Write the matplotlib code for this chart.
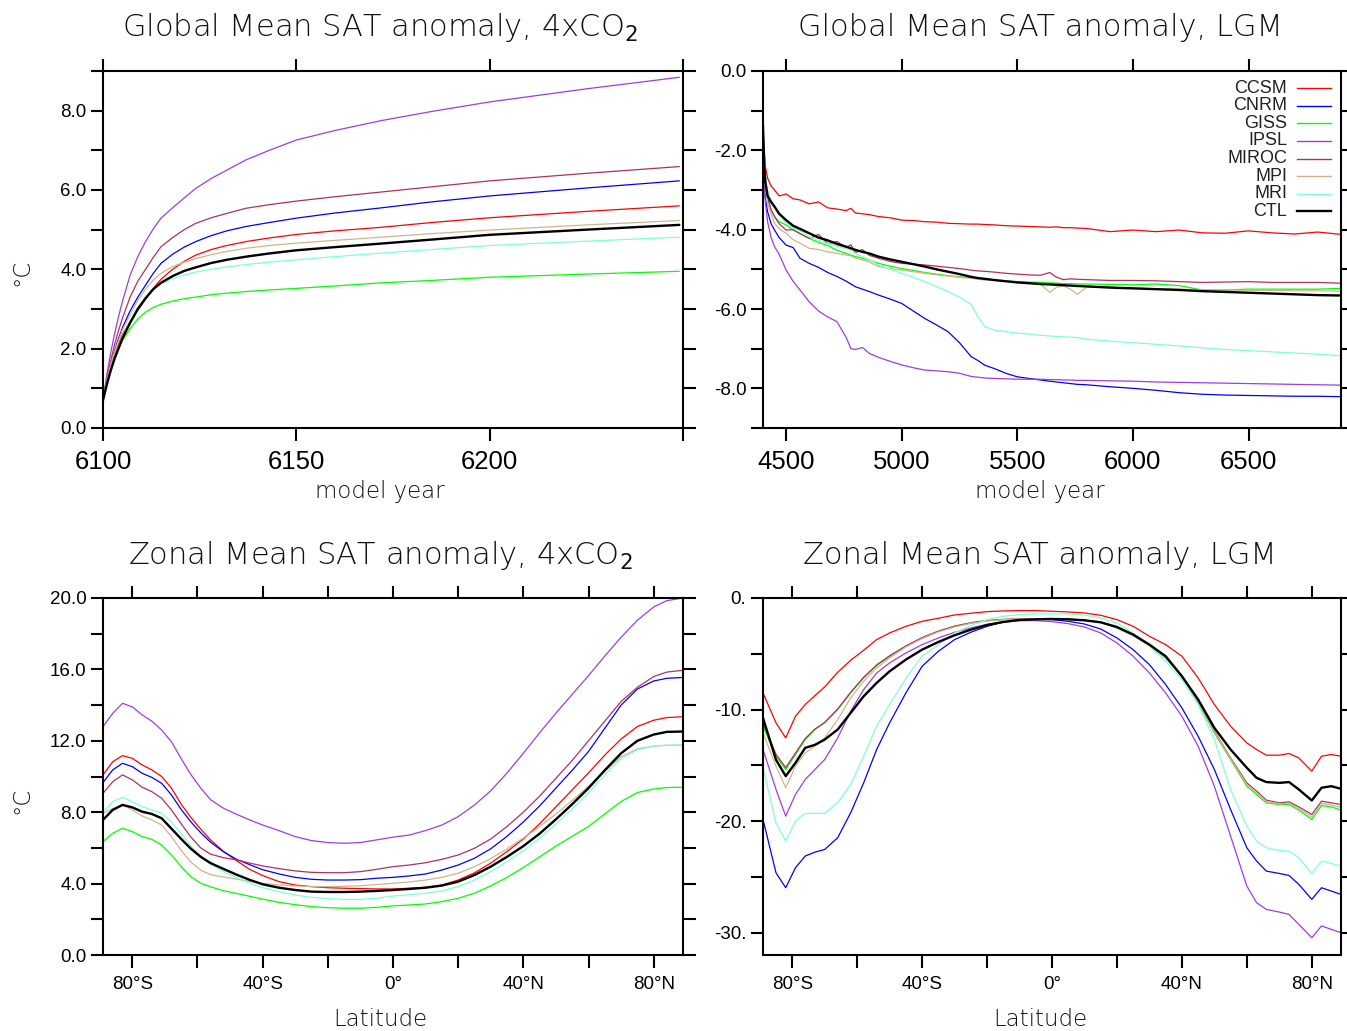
import matplotlib
matplotlib.use("Agg")
import matplotlib.pyplot as plt

plt.rcParams['font.family'] = ['Liberation Sans', 'DejaVu Sans']

# ---- data ----
models = ["CCSM", "CNRM", "GISS", "IPSL", "MIROC", "MPI", "MRI", "CTL"]
colors = ["#ff0000", "#0000ff", "#00ff00", "#a03ce0", "#b03060", "#d2b48c", "#7fffd4", "#000000"]

# global mean SAT anomaly, 4xCO2
years_4x = [6100, 6101, 6102, 6103, 6104, 6105, 6107, 6109, 6111, 6113, 6115, 6118, 6121,
            6124, 6128, 6132, 6137, 6143, 6150, 6160, 6172, 6185, 6200, 6225, 6249]
gm4x_ccsm = [0.7, 1.15, 1.5, 1.82, 2.1, 2.35, 2.68, 2.97, 3.25, 3.52, 3.75, 4.0, 4.2,
             4.36, 4.5, 4.6, 4.7, 4.79, 4.88, 4.97, 5.06, 5.18, 5.30, 5.46, 5.60]
gm4x_cnrm = [0.7, 1.2, 1.6, 1.95, 2.25, 2.52, 2.95, 3.3, 3.6, 3.9, 4.15, 4.38, 4.56,
             4.70, 4.85, 4.97, 5.08, 5.18, 5.29, 5.42, 5.55, 5.70, 5.85, 6.05, 6.23]
gm4x_giss = [0.72, 1.15, 1.5, 1.78, 2.0, 2.2, 2.5, 2.75, 2.92, 3.04, 3.12, 3.2, 3.26,
             3.3, 3.36, 3.4, 3.44, 3.48, 3.52, 3.58, 3.66, 3.72, 3.80, 3.88, 3.95]
gm4x_ipsl = [0.7, 1.35, 1.9, 2.38, 2.8, 3.18, 3.85, 4.32, 4.7, 5.02, 5.29, 5.55, 5.8,
             6.04, 6.29, 6.5, 6.76, 7.0, 7.26, 7.5, 7.75, 7.98, 8.22, 8.55, 8.84]
gm4x_miroc = [0.7, 1.25, 1.7, 2.1, 2.45, 2.76, 3.3, 3.7, 4.0, 4.3, 4.57, 4.8, 5.0,
              5.16, 5.3, 5.41, 5.54, 5.63, 5.72, 5.83, 5.95, 6.08, 6.23, 6.42, 6.59]
gm4x_mpi = [0.7, 1.2, 1.6, 1.93, 2.2, 2.47, 2.85, 3.22, 3.5, 3.73, 3.9, 4.07, 4.18,
            4.27, 4.37, 4.45, 4.53, 4.6, 4.66, 4.73, 4.81, 4.9, 4.99, 5.12, 5.23]
gm4x_mri = [0.72, 1.15, 1.5, 1.8, 2.05, 2.3, 2.7, 3.05, 3.3, 3.5, 3.64, 3.77, 3.86,
            3.93, 4.0, 4.06, 4.12, 4.18, 4.24, 4.32, 4.41, 4.5, 4.60, 4.71, 4.81]
gm4x_ctl = [0.7, 1.1, 1.45, 1.75, 2.0, 2.25, 2.65, 3.0, 3.27, 3.5, 3.66, 3.83, 3.96,
            4.05, 4.16, 4.24, 4.32, 4.4, 4.48, 4.56, 4.65, 4.75, 4.87, 5.0, 5.12]

# global mean SAT anomaly, LGM
years_lgm = [4400, 4405, 4410, 4420, 4435, 4450, 4470, 4500, 4530, 4560, 4600, 4640, 4680, 4720,
             4760, 4780, 4800, 4830, 4860, 4900, 4950, 5000, 5050, 5100, 5150, 5200, 5250, 5300,
             5330, 5360, 5400, 5450, 5500, 5550, 5600, 5640, 5670, 5700, 5730, 5760, 5800, 5900,
             6000, 6100, 6200, 6300, 6400, 6500, 6600, 6700, 6800, 6900]
gmlgm_ccsm = [-1.5, -2.0, -2.4, -2.7, -2.9, -3.0, -3.15, -3.1, -3.22, -3.25, -3.35, -3.3, -3.45, -3.48,
              -3.52, -3.46, -3.58, -3.6, -3.62, -3.67, -3.7, -3.76, -3.77, -3.8, -3.81, -3.84, -3.85, -3.86,
              -3.86, -3.87, -3.88, -3.9, -3.91, -3.92, -3.93, -3.94, -3.93, -3.95, -3.95, -3.96, -3.97, -4.05,
              -4.01, -4.05, -4.01, -4.08, -4.09, -4.03, -4.08, -4.11, -4.06, -4.12]
gmlgm_cnrm = [-1.5, -2.6, -3.2, -3.55, -3.85, -4.01, -4.2, -4.39, -4.45, -4.72, -4.85, -4.95, -5.08, -5.18,
              -5.3, -5.37, -5.44, -5.5, -5.56, -5.65, -5.75, -5.86, -6.05, -6.24, -6.4, -6.57, -6.85, -7.2,
              -7.3, -7.42, -7.5, -7.62, -7.71, -7.75, -7.79, -7.82, -7.84, -7.86, -7.88, -7.9, -7.91, -7.96,
              -8.0, -8.05, -8.11, -8.15, -8.17, -8.18, -8.19, -8.2, -8.2, -8.21]
gmlgm_giss = [-1.5, -2.2, -2.7, -3.2, -3.5, -3.67, -3.8, -3.88, -4.0, -4.1, -4.22, -4.32, -4.4, -4.52,
              -4.6, -4.64, -4.68, -4.72, -4.77, -4.85, -4.92, -4.98, -5.03, -5.08, -5.12, -5.16, -5.19, -5.21,
              -5.23, -5.24, -5.27, -5.29, -5.31, -5.32, -5.33, -5.34, -5.35, -5.36, -5.36, -5.37, -5.37, -5.38,
              -5.39, -5.37, -5.41, -5.52, -5.52, -5.5, -5.5, -5.5, -5.5, -5.48]
gmlgm_ipsl = [-1.6, -2.8, -3.3, -3.8, -4.2, -4.43, -4.62, -5.02, -5.3, -5.52, -5.82, -6.05, -6.2, -6.32,
              -6.72, -7.0, -7.02, -6.97, -7.12, -7.22, -7.32, -7.41, -7.48, -7.54, -7.56, -7.58, -7.62, -7.7,
              -7.72, -7.74, -7.75, -7.76, -7.77, -7.77, -7.77, -7.78, -7.78, -7.79, -7.79, -7.8, -7.8, -7.81,
              -7.82, -7.84, -7.85, -7.86, -7.87, -7.88, -7.89, -7.9, -7.91, -7.92]
gmlgm_miroc = [-1.5, -2.2, -2.7, -3.2, -3.5, -3.67, -3.85, -4.01, -4.0, -4.1, -4.22, -4.12, -4.35, -4.3,
               -4.45, -4.38, -4.58, -4.5, -4.65, -4.72, -4.8, -4.85, -4.87, -4.89, -4.92, -4.95, -4.98, -5.02,
               -5.04, -5.05, -5.07, -5.1, -5.12, -5.14, -5.15, -5.08, -5.2, -5.26, -5.24, -5.25, -5.26, -5.28,
               -5.28, -5.29, -5.31, -5.33, -5.32, -5.31, -5.33, -5.33, -5.33, -5.35]
gmlgm_mpi = [-1.5, -2.3, -2.9, -3.35, -3.6, -3.84, -3.98, -4.09, -4.25, -4.34, -4.47, -4.5, -4.56, -4.6,
             -4.64, -4.66, -4.72, -4.76, -4.82, -4.93, -4.98, -5.02, -5.06, -5.1, -5.14, -5.17, -5.2, -5.23,
             -5.25, -5.27, -5.28, -5.3, -5.33, -5.35, -5.37, -5.58, -5.45, -5.42, -5.5, -5.63, -5.45, -5.45,
             -5.47, -5.49, -5.5, -5.51, -5.52, -5.53, -5.53, -5.54, -5.54, -5.55]
gmlgm_mri = [-1.3, -2.1, -2.6, -3.0, -3.3, -3.42, -3.62, -3.84, -3.95, -4.02, -4.18, -4.27, -4.35, -4.42,
             -4.48, -4.52, -4.6, -4.68, -4.76, -4.89, -5.0, -5.1, -5.2, -5.31, -5.43, -5.56, -5.7, -5.88,
             -6.2, -6.45, -6.53, -6.57, -6.61, -6.63, -6.66, -6.68, -6.69, -6.7, -6.71, -6.72, -6.76, -6.81,
             -6.85, -6.89, -6.93, -6.98, -7.02, -7.05, -7.08, -7.11, -7.14, -7.18]
gmlgm_ctl = [-1.4, -2.3, -2.8, -3.15, -3.3, -3.42, -3.6, -3.76, -3.9, -3.98, -4.09, -4.2, -4.27, -4.36,
             -4.43, -4.47, -4.51, -4.56, -4.6, -4.68, -4.75, -4.81, -4.87, -4.93, -5.0, -5.06, -5.12, -5.19,
             -5.22, -5.24, -5.27, -5.3, -5.33, -5.35, -5.37, -5.38, -5.39, -5.4, -5.41, -5.42, -5.43, -5.46,
             -5.48, -5.5, -5.52, -5.55, -5.57, -5.59, -5.61, -5.63, -5.65, -5.66]

# zonal mean SAT anomaly, 4xCO2
lat_4x = [-89, -86, -83, -80, -77, -74, -71, -68, -65, -62, -59, -56, -52, -48, -44, -40, -35, -30,
          -25, -20, -15, -10, -5, 0, 5, 10, 15, 20, 25, 30, 35, 40, 45, 50, 55, 60, 65, 70, 75, 80, 84, 89]
zm4x_ccsm = [10.09, 10.83, 11.17, 11.02, 10.65, 10.37, 10.0, 9.35, 8.45, 7.7, 7.05, 6.45, 5.8, 5.28,
             4.8, 4.45, 4.11, 3.92, 3.83, 3.77, 3.74, 3.72, 3.7, 3.7, 3.74, 3.79, 3.92, 4.2, 4.6, 5.15,
             5.8, 6.5, 7.35, 8.3, 9.25, 10.2, 11.2, 12.1, 12.8, 13.15, 13.3, 13.35]
zm4x_cnrm = [9.66, 10.37, 10.74, 10.55, 10.18, 9.95, 9.62, 8.97, 8.15, 7.45, 6.85, 6.32, 5.78, 5.36,
             5.06, 4.78, 4.54, 4.35, 4.24, 4.2, 4.2, 4.22, 4.3, 4.35, 4.43, 4.54, 4.76, 5.04, 5.42, 5.95,
             6.65, 7.45, 8.35, 9.35, 10.35, 11.4, 12.7, 14.0, 14.9, 15.35, 15.5, 15.55]
zm4x_giss = [6.35, 6.82, 7.1, 6.91, 6.63, 6.48, 6.16, 5.61, 4.95, 4.38, 4.02, 3.82, 3.6, 3.45,
             3.29, 3.13, 2.95, 2.82, 2.71, 2.65, 2.62, 2.62, 2.67, 2.75, 2.8, 2.86, 2.99, 3.18, 3.46, 3.87,
             4.35, 4.9, 5.5, 6.1, 6.65, 7.2, 7.9, 8.6, 9.1, 9.3, 9.38, 9.4]
zm4x_ipsl = [12.79, 13.54, 14.1, 13.9, 13.45, 13.1, 12.6, 11.95, 11.0, 10.1, 9.35, 8.7, 8.22, 7.88,
             7.57, 7.28, 6.97, 6.63, 6.41, 6.3, 6.26, 6.3, 6.45, 6.6, 6.72, 6.97, 7.28, 7.75, 8.4, 9.2,
             10.2, 11.3, 12.45, 13.55, 14.6, 15.65, 16.75, 17.8, 18.75, 19.5, 19.85, 20.0]
zm4x_miroc = [9.06, 9.71, 10.09, 9.81, 9.4, 9.15, 8.78, 8.13, 7.35, 6.6, 6.0, 5.65, 5.45, 5.33,
              5.15, 4.99, 4.84, 4.71, 4.63, 4.61, 4.61, 4.67, 4.8, 4.95, 5.04, 5.17, 5.36, 5.6, 5.98, 6.5,
              7.2, 8.0, 8.9, 9.9, 10.9, 12.0, 13.1, 14.2, 15.0, 15.6, 15.85, 15.95]
zm4x_mpi = [7.94, 8.2, 8.41, 8.13, 7.79, 7.57, 7.28, 6.64, 5.85, 5.2, 4.75, 4.5, 4.37, 4.25,
            4.12, 4.02, 3.92, 3.87, 3.83, 3.83, 3.85, 3.88, 3.95, 4.02, 4.09, 4.2, 4.35, 4.58, 4.95, 5.4,
            5.95, 6.55, 7.2, 7.9, 8.65, 9.45, 10.3, 11.1, 11.55, 11.7, 11.75, 11.75]
zm4x_mri = [8.03, 8.59, 8.83, 8.59, 8.31, 8.13, 7.94, 7.45, 6.8, 6.1, 5.5, 5.08, 4.68, 4.33,
            4.03, 3.77, 3.55, 3.36, 3.23, 3.16, 3.12, 3.12, 3.18, 3.3, 3.38, 3.46, 3.59, 3.83, 4.2, 4.67,
            5.23, 5.85, 6.55, 7.35, 8.2, 9.1, 10.1, 11.0, 11.5, 11.7, 11.75, 11.77]
zm4x_ctl = [7.57, 8.13, 8.41, 8.27, 8.03, 7.9, 7.66, 7.08, 6.5, 5.95, 5.5, 5.15, 4.82, 4.5,
            4.21, 3.96, 3.77, 3.64, 3.55, 3.53, 3.53, 3.55, 3.59, 3.64, 3.7, 3.77, 3.89, 4.11, 4.48, 4.95,
            5.5, 6.1, 6.8, 7.6, 8.45, 9.35, 10.35, 11.3, 12.0, 12.35, 12.5, 12.52]

# zonal mean SAT anomaly, LGM
lat_lgm = [-89, -85, -82, -79, -76, -73, -70, -66, -62, -58, -54, -50, -45, -40, -35, -30, -25, -20,
           -15, -10, -5, 0, 5, 10, 15, 20, 25, 30, 35, 40, 45, 50, 55, 60, 63, 66, 70, 73, 76, 80, 83, 86, 89]
zmlgm_ccsm = [-8.51, -11.19, -12.54, -10.6, -9.55, -8.75, -7.97, -6.66, -5.58, -4.69, -3.73, -3.13,
              -2.54, -2.09, -1.82, -1.52, -1.37, -1.22, -1.16, -1.13, -1.13, -1.19, -1.25, -1.34, -1.55,
              -1.94, -2.54, -3.43, -4.18, -5.22, -7.16, -9.55, -11.49, -12.99, -13.58, -14.09, -14.09,
              -13.94, -14.33, -15.52, -14.18, -14.03, -14.18]
zmlgm_cnrm = [-19.85, -24.63, -25.97, -24.18, -23.13, -22.78, -22.54, -21.49, -19.25, -16.57, -13.58, -11.19,
              -8.51, -6.12, -4.78, -3.73, -3.07, -2.54, -2.15, -1.94, -1.88, -1.94, -2.09, -2.33, -2.78,
              -3.58, -4.63, -5.97, -7.76, -9.85, -12.39, -15.37, -18.96, -22.39, -23.58, -24.48, -24.69,
              -24.87, -25.67, -27.01, -25.97, -26.27, -26.57]
zmlgm_giss = [-11.49, -14.18, -15.37, -14.03, -12.69, -11.79, -11.19, -10.0, -8.51, -7.16, -6.06, -5.22,
              -4.33, -3.58, -2.99, -2.54, -2.24, -2.03, -1.94, -1.88, -1.88, -1.88, -1.91, -2.0, -2.18,
              -2.69, -3.37, -4.27, -5.37, -7.01, -9.4, -12.09, -14.48, -16.87, -17.61, -18.36, -18.51,
              -18.51, -19.01, -19.85, -18.6, -18.72, -19.01]
zmlgm_ipsl = [-13.58, -17.16, -19.55, -17.61, -16.27, -15.37, -14.48, -12.54, -10.15, -8.21, -6.72, -5.82,
              -4.93, -4.18, -3.58, -3.07, -2.69, -2.36, -2.15, -2.03, -2.03, -2.12, -2.3, -2.6, -3.13,
              -4.03, -5.22, -6.72, -8.51, -10.6, -13.28, -16.87, -21.34, -25.82, -27.31, -27.91, -28.15,
              -28.36, -29.25, -30.45, -29.4, -29.7, -30.0]
zmlgm_miroc = [-11.2, -14.0, -15.2, -13.9, -12.6, -11.75, -11.15, -9.95, -8.45, -7.1, -6.0, -5.18,
               -4.3, -3.55, -2.97, -2.52, -2.22, -2.01, -1.92, -1.86, -1.85, -1.86, -1.89, -1.98, -2.16,
               -2.66, -3.33, -4.22, -5.3, -6.96, -9.25, -11.94, -14.33, -16.57, -17.31, -18.12, -18.36,
               -18.27, -18.72, -19.4, -18.21, -18.36, -18.51]
zmlgm_mpi = [-12.09, -15.07, -17.01, -15.07, -13.88, -13.28, -12.54, -10.9, -8.96, -7.46, -6.27, -5.37,
             -4.39, -3.64, -3.04, -2.6, -2.27, -2.06, -1.94, -1.88, -1.87, -1.88, -1.9, -1.99, -2.17,
             -2.68, -3.35, -4.25, -5.34, -6.99, -9.33, -12.0, -14.4, -16.72, -17.45, -18.24, -18.45,
             -18.4, -18.87, -19.62, -18.4, -18.55, -18.76]
zmlgm_mri = [-15.22, -20.15, -21.79, -20.0, -19.31, -19.31, -19.31, -18.36, -16.72, -14.18, -11.49, -9.55,
             -7.2, -5.22, -4.18, -3.13, -2.48, -1.94, -1.64, -1.49, -1.43, -1.43, -1.43, -1.52, -1.79,
             -2.24, -3.13, -4.33, -5.67, -7.31, -9.55, -12.69, -17.16, -20.45, -21.79, -22.39, -22.63,
             -22.69, -23.28, -24.69, -23.58, -23.79, -24.03]
zmlgm_ctl = [-10.75, -14.5, -15.97, -14.78, -13.43, -13.16, -12.69, -11.79, -10.3, -8.81, -7.61, -6.57,
             -5.52, -4.63, -3.94, -3.34, -2.84, -2.42, -2.15, -1.97, -1.91, -1.88, -1.91, -2.0, -2.18,
             -2.6, -3.28, -4.18, -5.22, -7.01, -9.1, -11.64, -13.58, -15.22, -16.12, -16.5, -16.57,
             -16.5, -17.16, -18.15, -17.01, -16.87, -17.1]

gm4x = [gm4x_ccsm, gm4x_cnrm, gm4x_giss, gm4x_ipsl, gm4x_miroc, gm4x_mpi, gm4x_mri, gm4x_ctl]
gmlgm = [gmlgm_ccsm, gmlgm_cnrm, gmlgm_giss, gmlgm_ipsl, gmlgm_miroc, gmlgm_mpi, gmlgm_mri, gmlgm_ctl]
zm4x = [zm4x_ccsm, zm4x_cnrm, zm4x_giss, zm4x_ipsl, zm4x_miroc, zm4x_mpi, zm4x_mri, zm4x_ctl]
zmlgm = [zmlgm_ccsm, zmlgm_cnrm, zmlgm_giss, zmlgm_ipsl, zmlgm_miroc, zmlgm_mpi, zmlgm_mri, zmlgm_ctl]

# ---- figure ----
W, H = 1347, 1031
fig = plt.figure(figsize=(W / 100, H / 100), dpi=100)


def box(x0, y0, x1, y1):
    return [x0 / W, 1 - y1 / H, (x1 - x0) / W, (y1 - y0) / H]


ax1 = fig.add_axes(box(103, 71, 683, 428))
ax2 = fig.add_axes(box(763, 71, 1341, 428))
ax3 = fig.add_axes(box(103, 598, 683, 955))
ax4 = fig.add_axes(box(763, 598, 1341, 955))


def draw(ax, x, series):
    for name, col, y in zip(models, colors, series):
        lw = 1.7 if name == "CTL" else 0.9
        ax.plot(x, y, color=col, lw=lw, zorder=3 if name == "CTL" else 2)


def style(ax, xsize, xpad):
    for s in ax.spines.values():
        s.set_linewidth(1.5)
    ax.tick_params(direction='out', length=9, width=1.5, top=True, right=True,
                   labeltop=False, labelright=False)
    ax.tick_params(axis='x', labelsize=xsize, pad=xpad)
    ax.tick_params(axis='y', labelsize=13.5, pad=3)


draw(ax1, years_4x, gm4x)
draw(ax2, years_lgm, gmlgm)
draw(ax3, lat_4x, zm4x)
draw(ax4, lat_lgm, zmlgm)

for ax in (ax1, ax2):
    style(ax, 18.5, 6.5)
for ax in (ax3, ax4):
    style(ax, 13.5, 6)

ax1.set_xlim(6100, 6250)
ax1.set_ylim(0, 9)
ax1.set_xticks([6100, 6150, 6200, 6250])
ax1.set_xticklabels(['6100', '6150', '6200', ''])
ax1.set_yticks(range(0, 10))
ax1.set_yticklabels([f"{v:.1f}" if v % 2 == 0 else '' for v in range(0, 10)])

ax2.set_xlim(4400, 6900)
ax2.set_ylim(-9, 0)
ax2.set_xticks([4500, 5000, 5500, 6000, 6500])
ax2.set_yticks(range(-9, 1))
ax2.set_yticklabels([f"{v:.1f}" if v % 2 == 0 else '' for v in range(-9, 1)])

lat_ticks = list(range(-80, 81, 20))
lat_labels = ['80°S', '', '40°S', '', '0°', '', '40°N', '', '80°N']
for ax in (ax3, ax4):
    ax.set_xlim(-89, 89)
    ax.set_xticks(lat_ticks)
    ax.set_xticklabels(lat_labels)

ax3.set_ylim(0, 20)
ax3.set_yticks(range(0, 21, 2))
ax3.set_yticklabels([f"{v:.1f}" if v % 4 == 0 else '' for v in range(0, 21, 2)])

ax4.set_ylim(-32, 0)
ax4.set_yticks(range(-30, 1, 5))
ax4.set_yticklabels([f"{v}." if v % 10 == 0 else '' for v in range(-30, 1, 5)])

# legend in LGM global panel
for i, (name, col) in enumerate(zip(models, colors)):
    yy = 0.952 - i * 0.0493
    ax2.text(0.9066, yy, name, transform=ax2.transAxes, ha='right', va='center',
             fontsize=13, color='#222222')
    ax2.plot([0.924, 0.983], [yy, yy], transform=ax2.transAxes, color=col,
             lw=1.7 if name == "CTL" else 1.0)

# titles and axis labels
tfont = dict(family='DejaVu Sans', fontweight='light', color='#111111', ha='center', va='center')
fig.text(380 / W, 1 - 28 / H, 'Global Mean SAT anomaly, 4xCO$_2$', fontsize=22, **tfont)
fig.text(1040 / W, 1 - 28 / H, 'Global Mean SAT anomaly, LGM', fontsize=22, **tfont)
fig.text(380 / W, 1 - 556 / H, 'Zonal Mean SAT anomaly, 4xCO$_2$', fontsize=22, **tfont)
fig.text(1040 / W, 1 - 556 / H, 'Zonal Mean SAT anomaly, LGM', fontsize=22, **tfont)

fig.text(380 / W, 1 - 492 / H, 'model year', fontsize=16.5, **tfont)
fig.text(1040 / W, 1 - 492 / H, 'model year', fontsize=16.5, **tfont)
fig.text(380 / W, 1 - 1020 / H, 'Latitude', fontsize=16.5, **tfont)
fig.text(1040 / W, 1 - 1020 / H, 'Latitude', fontsize=16.5, **tfont)
fig.text(22 / W, 1 - 272 / H, '°C', fontsize=16.5, rotation=90, **tfont)
fig.text(22 / W, 1 - 800 / H, '°C', fontsize=16.5, rotation=90, **tfont)

fig.savefig("out.png", dpi=100)
